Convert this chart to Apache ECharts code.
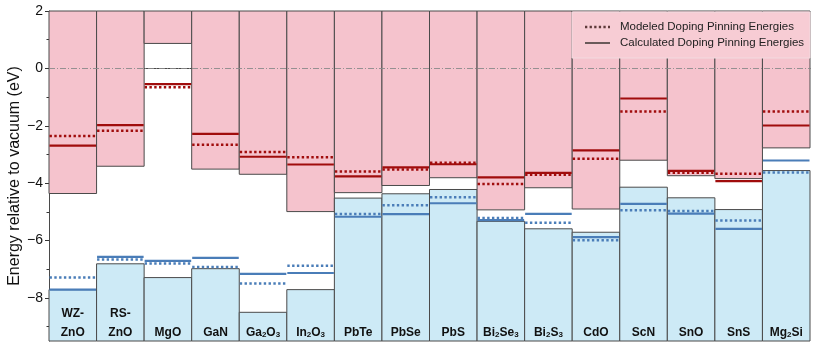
<!DOCTYPE html>
<html>
<head>
<meta charset="utf-8">
<script src="https://cdn.jsdelivr.net/npm/echarts@6/dist/echarts.min.js"></script>
<style>html,body{margin:0;padding:0;background:#fff}#c{width:814px;height:347px}</style>
</head>
<body>
<div id="c"></div>
<script>
// ---- data ----
var categories = ['WZ-ZnO', 'RS-ZnO', 'MgO', 'GaN', 'Ga2O3', 'In2O3', 'PbTe', 'PbSe', 'PbS', 'Bi2Se3', 'Bi2S3', 'CdO', 'ScN', 'SnO', 'SnS', 'Mg2Si'];
var cbm    = [-4.36, -3.41, 0.87, -3.51, -3.69, -4.99, -4.33, -4.08, -3.81, -4.93, -4.16, -4.90, -3.20, -3.74, -3.84, -2.77];
var vbm    = [-7.71, -6.81, -7.29, -6.98, -8.50, -7.71, -4.52, -4.37, -4.22, -5.33, -5.59, -5.71, -4.14, -4.51, -4.92, -3.56];
var nCalc  = [-2.69, -1.98, -0.55, -2.28, -3.08, -3.35, -3.76, -3.45, -3.34, -3.80, -3.64, -2.86, -1.05, -3.57, -3.93, -1.99];
var nModel = [-2.36, -2.17, -0.66, -2.66, -2.91, -3.10, -3.59, -3.52, -3.29, -4.03, -3.71, -3.15, -1.50, -3.64, -3.67, -1.50];
var pCalc  = [-7.71, -6.57, -6.71, -6.60, -7.16, -7.13, -5.17, -5.08, -4.70, -5.29, -5.07, -5.88, -4.72, -5.06, -5.59, -3.21];
var pModel = [-7.29, -6.66, -6.80, -6.92, -7.50, -6.88, -5.07, -4.77, -4.49, -5.21, -5.38, -5.99, -4.94, -4.97, -5.30, -3.63];
var yMin = -9.5, yMax = 2;
var majorTicks = [-8, -6, -4, -2, 0, 2];
var minorTicks = [-9, -7, -5, -3, -1, 1];

var PINK = '#f5c3cd', BLUE = '#cdeaf6', RED = '#a00c0c', BLINE = '#4a7db8', EDGE = '#4a4a4a';
var FONT = '"Liberation Sans", Arial, Helvetica, sans-serif';

function richName(name) {
  var m = {'WZ-ZnO': '{b|WZ-}\n{b|ZnO}', 'RS-ZnO': '{b|RS-}\n{b|ZnO}'};
  if (m[name]) return m[name];
  var out = '';
  var parts = name.match(/[A-Za-z]+|\d+/g);
  parts.forEach(function (p) { out += /\d/.test(p) ? '{s|' + p + '}' : '{b|' + p + '}'; });
  return out;
}

var chart = echarts.init(document.getElementById('c'), null, {renderer: 'canvas'});

function bandItem(params, api) {
  var i = api.value(0);
  var w = api.size([1, 0])[0];
  var pTop = api.coord([i, yMax]);
  var pC = api.coord([i, api.value(1)]);
  var pV = api.coord([i, api.value(2)]);
  var pBot = api.coord([i, yMin]);
  var x0 = pC[0] - w / 2;
  return {
    type: 'group',
    children: [
      {type: 'rect', shape: {x: x0, y: pTop[1], width: w, height: pC[1] - pTop[1]},
       style: {fill: PINK, stroke: EDGE, lineWidth: 1}},
      {type: 'rect', shape: {x: x0, y: pV[1], width: w, height: pBot[1] - pV[1]},
       style: {fill: BLUE, stroke: EDGE, lineWidth: 1}},
      {type: 'text', x: pC[0], y: pBot[1] + 1,
       style: {text: richName(categories[i]), align: 'center', verticalAlign: 'bottom',
         lineHeight: 19, fontFamily: FONT,
         rich: {
           b: {fontSize: 12, fontWeight: 'bold', fill: '#111', fontFamily: FONT, lineHeight: 19},
           s: {fontSize: 8, fontWeight: 'bold', fill: '#111', fontFamily: FONT, verticalAlign: 'middle', padding: [4, 0, 0, 0]}
         }}}
    ]
  };
}

function lineSeries(values, color, dotted, z) {
  return {
    type: 'custom', z: z, silent: true,
    data: values.map(function (v, i) { return [i, v]; }),
    encode: {x: 0, y: 1},
    renderItem: function (params, api) {
      var i = api.value(0);
      var w = api.size([1, 0])[0];
      var p = api.coord([i, api.value(1)]);
      return {
        type: 'line',
        shape: {x1: p[0] - w / 2 + 0.5, y1: p[1], x2: p[0] + w / 2 - 0.5, y2: p[1]},
        style: {stroke: color, lineWidth: dotted ? 2.5 : 2.2, lineDash: dotted ? [2.4, 2.4] : null, lineCap: 'butt'}
      };
    }
  };
}

var option = {
  animation: false,
  grid: {left: 49, right: 4, top: 11, bottom: 6, containLabel: false, outerBoundsMode: 'none'},
  xAxis: {
    type: 'category', data: categories, boundaryGap: true,
    axisLine: {show: true, lineStyle: {color: EDGE, width: 1}},
    axisTick: {show: false}, axisLabel: {show: false}, splitLine: {show: false}
  },
  yAxis: [{
    type: 'value', min: yMin, max: yMax,
    name: 'Energy relative to vacuum (eV)', nameLocation: 'middle', nameGap: 26, nameMoveOverlap: false,
    nameTextStyle: {fontSize: 16, color: '#111', fontFamily: FONT},
    axisLine: {show: true, lineStyle: {color: EDGE, width: 1}},
    axisTick: {show: true, inside: false, length: 4, customValues: majorTicks, lineStyle: {color: '#333'}},
    axisLabel: {customValues: majorTicks, fontSize: 14, color: '#111', fontFamily: FONT, margin: 6,
      formatter: function (v) { return String(v).replace('-', '\u2212'); }},
    splitLine: {show: false}
  }, {
    type: 'value', min: yMin, max: yMax, position: 'left',
    axisLine: {show: false},
    axisTick: {show: true, inside: false, length: 2.5, customValues: minorTicks, lineStyle: {color: '#333'}},
    axisLabel: {show: false}, splitLine: {show: false}
  }],
  series: [
    {
      type: 'custom', z: 1, silent: true,
      data: categories.map(function (c, i) { return [i, cbm[i], vbm[i]]; }),
      encode: {x: 0, y: [1, 2]},
      renderItem: bandItem,
      markLine: {
        silent: true, symbol: 'none', label: {show: false},
        lineStyle: {color: '#8a8a8a', width: 0.9, type: [6, 2, 1, 2]},
        data: [{yAxis: 0}]
      }
    },
    lineSeries(nModel, RED, true, 3),
    lineSeries(nCalc, RED, false, 4),
    lineSeries(pModel, BLINE, true, 3),
    lineSeries(pCalc, BLINE, false, 4)
  ],
  graphic: [
    {type: 'rect', z: 100, shape: {x: 572, y: 12, width: 238, height: 46},
     style: {fill: '#f7ccd4', stroke: '#f2dbe0', lineWidth: 1}},
    {type: 'line', z: 101, shape: {x1: 585, y1: 27, x2: 610, y2: 27},
     style: {stroke: '#5e3a3a', lineWidth: 2.4, lineDash: [2.3, 2.3]}},
    {type: 'line', z: 101, shape: {x1: 585, y1: 43, x2: 610, y2: 43},
     style: {stroke: '#6a5a5a', lineWidth: 2}},
    {type: 'text', z: 101, x: 620, y: 27,
     style: {text: 'Modeled Doping Pinning Energies', fontSize: 11.5, fill: '#222', fontFamily: FONT, verticalAlign: 'middle'}},
    {type: 'text', z: 101, x: 620, y: 43,
     style: {text: 'Calculated Doping Pinning Energies', fontSize: 11.5, fill: '#222', fontFamily: FONT, verticalAlign: 'middle'}}
  ]
};
chart.setOption(option);
</script>
</body>
</html>
